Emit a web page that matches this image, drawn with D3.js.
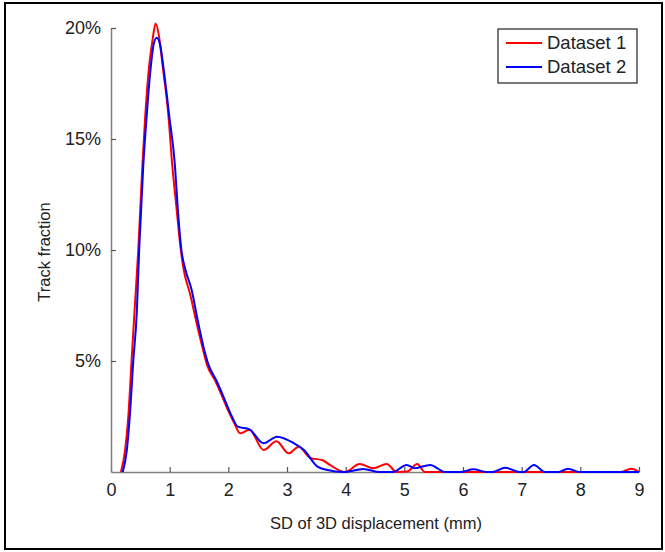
<!DOCTYPE html>
<html>
<head>
<meta charset="utf-8">
<script src="https://cdn.jsdelivr.net/npm/d3@7"></script>
<style>
  body { margin: 0; background: #fff; }
  text { font-family: "Liberation Sans", Arial, sans-serif; fill: #222; }
</style>
</head>
<body>
<script>
// SD of 3D displacement (mm) and track fraction (%) for each dataset
var xDataset1 = [0.17, 0.24, 0.295, 0.35, 0.40, 0.465, 0.535, 0.585, 0.65, 0.71, 0.76, 0.82, 0.88, 0.977, 1.045, 1.12, 1.19, 1.24, 1.35, 1.46, 1.56, 1.64, 1.78, 1.88, 2.0, 2.1, 2.2, 2.36, 2.6, 2.82, 3.03, 3.2, 3.4, 3.6, 3.73, 3.99, 4.24, 4.47, 4.7, 4.87, 5.05, 5.22, 5.35, 5.6, 6.0, 7.0, 8.0, 8.68, 8.87, 9.0];
var yDataset1 = [0, 0.99, 2.5, 5.0, 7.2, 10.0, 13.8, 16.1, 18.3, 19.5, 20.2, 19.6, 18.3, 16.1, 13.8, 11.8, 10.0, 9.1, 8.0, 6.7, 5.6, 4.8, 4.1, 3.5, 2.75, 2.2, 1.74, 1.9, 0.99, 1.38, 0.84, 1.14, 0.62, 0.54, 0.32, 0, 0.36, 0.17, 0.36, 0, 0.02, 0.36, 0, 0, 0, 0, 0, 0, 0.15, 0];

var xDataset2 = [0.2, 0.27, 0.32, 0.38, 0.44, 0.48, 0.55, 0.61, 0.68, 0.73, 0.78, 0.84, 0.89, 0.99, 1.09, 1.14, 1.2, 1.27, 1.375, 1.48, 1.58, 1.66, 1.8, 1.9, 2.06, 2.16, 2.36, 2.6, 2.83, 3.12, 3.29, 3.52, 3.69, 3.96, 4.19, 4.3, 4.58, 4.8, 5.04, 5.18, 5.44, 5.7, 5.95, 6.18, 6.4, 6.5, 6.72, 6.97, 7.03, 7.21, 7.4, 7.62, 7.79, 7.99, 9.0];
var yDataset2 = [0, 0.99, 2.5, 5.0, 7.2, 10.0, 13.8, 16.1, 18.3, 19.3, 19.56, 19.2, 18.3, 16.1, 13.8, 11.8, 10.0, 9.1, 8.2, 6.8, 5.6, 4.85, 4.1, 3.5, 2.5, 2.04, 1.92, 1.29, 1.59, 1.29, 0.99, 0.24, 0.09, 0, 0.09, 0.14, 0, 0, 0.32, 0.17, 0.32, 0, 0, 0.12, 0, 0, 0.19, 0, 0, 0.32, 0, 0, 0.15, 0, 0];

var seriesNames = ["Dataset 1", "Dataset 2"];
var seriesColors = ["#ff0000", "#0000ff"];
var xTicks = [0, 1, 2, 3, 4, 5, 6, 7, 8, 9];
var yTicks = [5, 10, 15, 20];

var width = 665, height = 552;

var svg = d3.select("body")
    .append("svg")
    .attr("width", width)
    .attr("height", height);

svg.append("rect")
    .attr("width", width)
    .attr("height", height)
    .attr("fill", "#fff");

// outer frame
svg.append("rect")
    .attr("x", 5)
    .attr("y", 3)
    .attr("width", 657)
    .attr("height", 546)
    .attr("fill", "none")
    .attr("stroke", "#000")
    .attr("stroke-width", 2);

var x = d3.scaleLinear().domain([0, 9]).range([111, 639]);
var y = d3.scaleLinear().domain([0, 20]).range([472, 28]);

var xAxis = svg.append("g")
    .attr("transform", "translate(0," + y(0) + ")")
    .call(d3.axisBottom(x).tickValues(xTicks).tickSizeInner(-5).tickSizeOuter(0).tickPadding(11));

var yAxis = svg.append("g")
    .attr("transform", "translate(" + x(0) + ",0)")
    .call(d3.axisLeft(y).tickValues(yTicks).tickFormat(function(d) { return d + "%"; })
        .tickSizeInner(-5).tickSizeOuter(0).tickPadding(10));

[xAxis, yAxis].forEach(function(g) {
    g.select(".domain").attr("stroke", "#808080").attr("stroke-width", 1.5);
    g.selectAll(".tick line").attr("stroke", "#555").attr("stroke-width", 1.2);
    g.selectAll(".tick text").style("font-size", "18px").attr("fill", "#222");
});

var line = d3.line()
    .x(function(d) { return x(d[0]); })
    .y(function(d) { return y(d[1]); })
    .curve(d3.curveMonotoneX);

var series = [d3.zip(xDataset1, yDataset1), d3.zip(xDataset2, yDataset2)];

svg.selectAll(".series")
    .data(series)
    .enter()
    .append("path")
    .attr("class", "series")
    .attr("d", line)
    .attr("fill", "none")
    .attr("stroke", function(d, i) { return seriesColors[i]; })
    .attr("stroke-width", 2);

// axis titles
svg.append("text")
    .attr("x", 376)
    .attr("y", 529)
    .attr("text-anchor", "middle")
    .style("font-size", "16.5px")
    .text("SD of 3D displacement (mm)");

svg.append("text")
    .attr("transform", "translate(50,252) rotate(-90)")
    .attr("text-anchor", "middle")
    .style("font-size", "16.5px")
    .text("Track fraction");

// legend
var legend = svg.append("g");
legend.append("rect")
    .attr("x", 498)
    .attr("y", 29)
    .attr("width", 139)
    .attr("height", 54)
    .attr("fill", "#fff")
    .attr("stroke", "#222")
    .attr("stroke-width", 1.2);

var items = legend.selectAll(".item")
    .data(seriesNames)
    .enter()
    .append("g")
    .attr("class", "item")
    .attr("transform", function(d, i) { return "translate(0," + (43 + i * 24) + ")"; });

items.append("line")
    .attr("x1", 506)
    .attr("x2", 542)
    .attr("stroke", function(d, i) { return seriesColors[i]; })
    .attr("stroke-width", 2);

items.append("text")
    .attr("x", 547)
    .attr("dy", "0.35em")
    .style("font-size", "18.5px")
    .text(function(d) { return d; });
</script>
</body>
</html>
